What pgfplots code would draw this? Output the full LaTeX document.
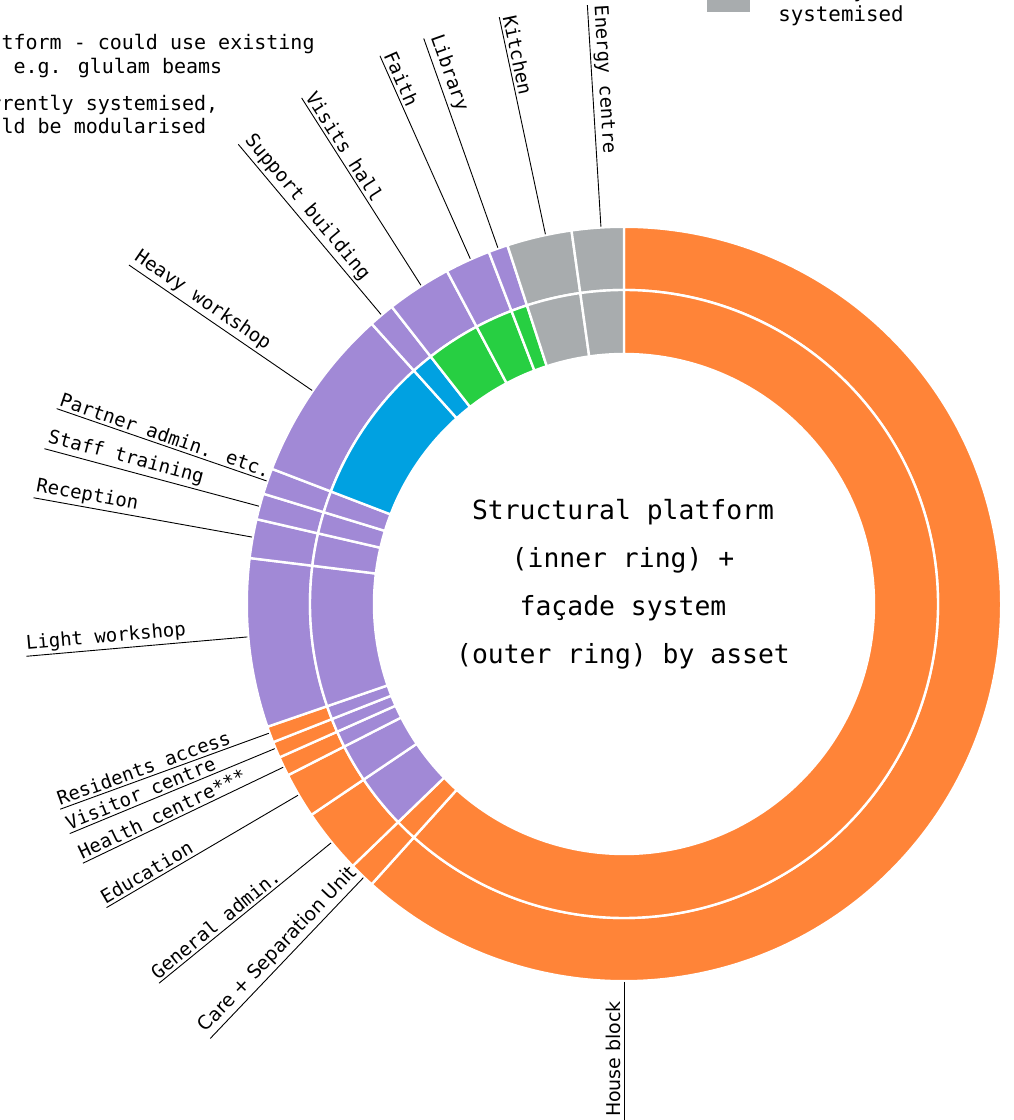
\documentclass[border=0pt]{standalone}
\usepackage{pgfplots}
\usepackage{pgfplotstable}
\pgfplotsset{compat=1.18}
\usepackage{fontspec}
\setmainfont{DejaVu Sans Mono}
\newfontfamily\propfont{DejaVu Sans}

\definecolor{orng}{HTML}{FF8438}
\definecolor{purp}{HTML}{A189D6}
\definecolor{blu}{HTML}{00A1E1}
\definecolor{grn}{HTML}{27CF42}
\definecolor{gry}{HTML}{A8ACAE}

\tikzset{
  lbl/.style={font=\fontsize{9.5}{11}\selectfont, inner xsep=0.3pt, inner ysep=1.3pt, anchor=south west},
  lblp/.style={lbl, font=\propfont\fontsize{9.5}{11}\selectfont},
  leg/.style={font=\fontsize{10}{12}\selectfont, inner sep=0pt, anchor=base west},
}

% arc of each asset in degrees, clockwise from 12 o'clock
% outer = facade system colour, inner = structural platform colour
% lab = angle of leader line, tr = radius (pt) where its text starts
\pgfplotstableread[col sep=comma]{
name,value,outer,inner,lab,tr,sty
House block,222,orng,orng,180,257,lblp
Care + Separation Unit,4,orng,orng,223.6,300,lblp
General admin.,10,orng,purp,230.8,300,lbl
Education,7,orng,purp,239.6,300,lbl
Health centre***,3,orng,purp,244.4,300,lbl
Visitor centre,2.5,orng,purp,247.5,300,lbl
Residents access,2.5,orng,purp,250,300,lbl
Light workshop,26,purp,purp,265,300,lbl
Reception,6,purp,purp,280.2,300,lbl
Staff training,4,purp,purp,285,300,lbl
Partner admin. etc.,4,purp,purp,289,300,lbl
Heavy workshop,27,purp,blu,304.4,300,lbl
Support building,4,purp,blu,320,300,lbl
Visits hall,10,purp,grn,327.5,300,lbl
Faith,7,purp,grn,336,300,lbl
Library,3,purp,grn,340.5,300,lbl
Kitchen,10,gry,gry,348,300,lbl
Energy centre,8,gry,gry,356.5,300,lbl
}\slices

\begin{document}
\begin{tikzpicture}
\begin{axis}[
    hide axis,
    x=0.5pt, y=0.5pt,
    xmin=-624, xmax=389,
    ymin=-516, ymax=604,
    clip=true,
]
\pgfplotstablegetrowsof{\slices}
\pgfmathtruncatemacro\nrows{\pgfplotsretval-1}
\def\cum{0}
\pgfplotsforeachungrouped \i in {0,...,\nrows}{%
  \pgfplotstablegetelem{\i}{value}\of\slices \let\val\pgfplotsretval
  \pgfplotstablegetelem{\i}{outer}\of\slices \let\oc\pgfplotsretval
  \pgfplotstablegetelem{\i}{inner}\of\slices \let\ic\pgfplotsretval
  \pgfplotstablegetelem{\i}{lab}\of\slices \let\la\pgfplotsretval
  \pgfplotstablegetelem{\i}{tr}\of\slices \let\trad\pgfplotsretval
  \pgfplotstablegetelem{\i}{sty}\of\slices \let\sty\pgfplotsretval
  \pgfplotstablegetelem{\i}{name}\of\slices \let\nm\pgfplotsretval
  \pgfmathsetmacro\angA{90-\cum}
  \pgfmathsetmacro\angB{90-\cum-\val}
  \pgfmathsetmacro\cum{\cum+\val}
  \pgfmathsetmacro\lp{90-\la}
  \pgfmathsetmacro\txtrot{270-\la}
  \edef\temp{%
    \noexpand\path[fill=\oc, draw=white, line width=1.2pt, shift={(axis cs:0,0)}]
      (\angA:157pt) arc[start angle=\angA, end angle=\angB, radius=157pt]
      -- (\angB:188.6pt) arc[start angle=\angB, end angle=\angA, radius=188.6pt] -- cycle;
    \noexpand\path[fill=\ic, draw=white, line width=1.2pt, shift={(axis cs:0,0)}]
      (\angA:125pt) arc[start angle=\angA, end angle=\angB, radius=125pt]
      -- (\angB:157pt) arc[start angle=\angB, end angle=\angA, radius=157pt] -- cycle;
    \noexpand\draw[black, line width=0.45pt, shift={(axis cs:0,0)}]
      (\lp:189pt) -- (\lp:300pt);
    \noexpand\path[shift={(axis cs:0,0)}] (\lp:\trad pt)
      node[\sty, rotate=\txtrot] {\nm};
  }\temp
}

\node[align=center, font=\fontsize{13.2}{24}\selectfont] at (axis cs:-1,20)
  {Structural platform\\(inner ring) +\\façade system\\(outer ring) by asset};

% legend (cropped by the frame)
\node[leg] at (axis cs:-659,554) {Platform - could use existing};
\node[leg] at (axis cs:-659,530) {kit e.g. glulam beams};
\node[leg] at (axis cs:-659,493) {Currently systemised,};
\node[leg] at (axis cs:-659,470) {could be modularised};
\fill[gry] (axis cs:83,592) rectangle (axis cs:126,635);
\node[leg, font=\fontsize{10.4}{12}\selectfont] at (axis cs:154,606) {Already modular,};
\node[leg, font=\fontsize{10.4}{12}\selectfont] at (axis cs:154,582) {systemised};
\end{axis}
\pgfresetboundingbox
\useasboundingbox (current axis.south west) rectangle (current axis.north east);
\end{tikzpicture}
\end{document}
